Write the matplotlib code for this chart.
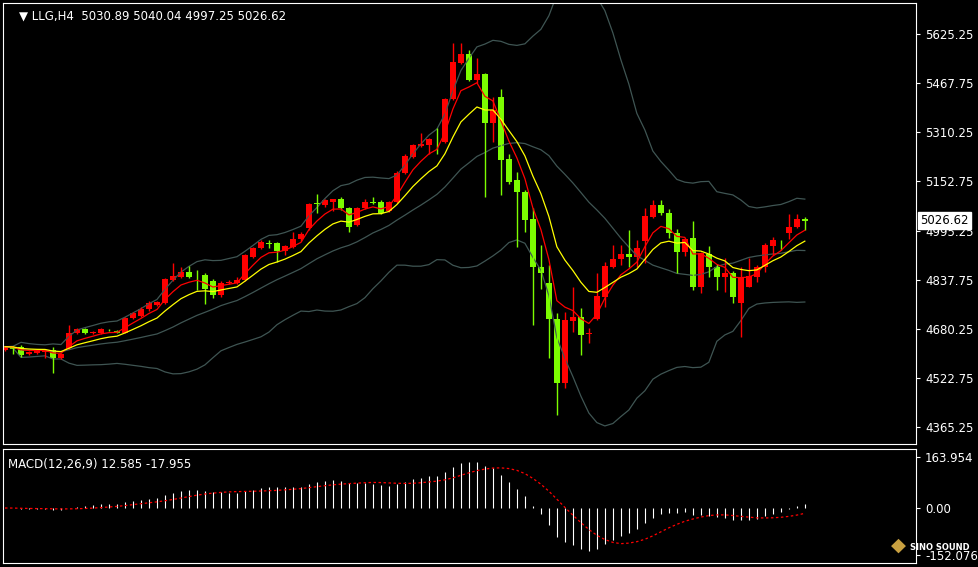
import numpy as np
import pandas as pd
import matplotlib
matplotlib.use("Agg")
import matplotlib.pyplot as plt

# OHLC, oldest first
opens = [4612, 4620, 4622, 4599, 4601, 4606, 4612, 4585, 4617, 4665,
         4678, 4665, 4665, 4677, 4671, 4667, 4713, 4721, 4742, 4756,
         4761, 4836, 4847, 4863, 4850, 4852, 4834, 4788, 4826, 4826,
         4836, 4911, 4938, 4955, 4954, 4930, 4943, 4967, 5002, 5083,
         5077, 5088, 5095, 5069, 5013, 5069, 5087, 5088, 5059, 5088,
         5181, 5232, 5266, 5270, 5287, 5280, 5419, 5534, 5562, 5480,
         5497, 5339, 5425, 5224, 5157, 5120, 5031, 4879, 4826, 4710,
         4505, 4706, 4716, 4663, 4710, 4783, 4879, 4903, 4920, 4911,
         4962, 5040, 5077, 5050, 4986, 4927, 4970, 4813, 4920, 4877,
         4847, 4858, 4763, 4815, 4847, 4879, 4945, 4966, 4986, 5007,
         5030.89]
highs = [4625, 4625, 4626, 4609, 4612, 4615, 4622, 4601, 4692, 4681,
         4681, 4673, 4681, 4678, 4676, 4718, 4735, 4750, 4770, 4770,
         4842, 4890, 4878, 4880, 4870, 4858, 4838, 4832, 4836, 4845,
         4920, 4942, 4965, 4965, 4958, 4950, 4990, 4990, 5085, 5112,
         5097, 5097, 5103, 5072, 5072, 5095, 5103, 5093, 5091, 5185,
         5240, 5274, 5309, 5291, 5326, 5420, 5596, 5596, 5575, 5548,
         5500, 5425, 5451, 5241, 5184, 5125, 5066, 4949, 4884, 4729,
         4735, 4815, 4745, 4681, 4858, 4895, 4949, 4949, 4997, 4965,
         5066, 5093, 5093, 5063, 4999, 4970, 5027, 4927, 4945, 4888,
         4906, 4866, 4879, 4906, 4884, 4954, 4973, 4966, 5048, 5048,
         5040.04]
lows = [4609, 4600, 4590, 4597, 4599, 4585, 4537, 4583, 4615, 4662,
        4662, 4662, 4663, 4674, 4665, 4665, 4711, 4718, 4738, 4754,
        4758, 4833, 4843, 4843, 4804, 4759, 4780, 4783, 4823, 4823,
        4833, 4906, 4935, 4940, 4895, 4915, 4940, 4963, 4998, 5050,
        5070, 5059, 5062, 4991, 5010, 5065, 5080, 5048, 5055, 5085,
        5176, 5228, 5262, 5241, 5241, 5275, 5415, 5530, 5476, 5470,
        5104, 5280, 5109, 5146, 4943, 4991, 4692, 4809, 4585, 4403,
        4488, 4670, 4595, 4633, 4708, 4751, 4874, 4884, 4879, 4879,
        4890, 5037, 5045, 4970, 4858, 4913, 4804, 4793, 4847, 4804,
        4799, 4763, 4654, 4813, 4831, 4863, 4916, 4932, 4967, 5002,
        4997.25]
closes = [4622, 4619, 4595, 4606, 4609, 4612, 4585, 4599, 4665, 4678,
          4665, 4670, 4678, 4675, 4670, 4713, 4729, 4742, 4761, 4767,
          4838, 4849, 4863, 4847, 4848, 4809, 4788, 4828, 4831, 4836,
          4916, 4938, 4959, 4953, 4930, 4945, 4967, 4984, 5080, 5081,
          5093, 5095, 5066, 5007, 5069, 5086, 5085, 5052, 5088, 5179,
          5234, 5270, 5273, 5288, 5285, 5417, 5537, 5562, 5480, 5497,
          5339, 5382, 5221, 5152, 5120, 5029, 4879, 4860, 4710, 4505,
          4708, 4716, 4660, 4666, 4785, 4881, 4903, 4920, 4909, 4938,
          5042, 5077, 5050, 4986, 4927, 4967, 4813, 4922, 4877, 4847,
          4858, 4781, 4842, 4849, 4879, 4949, 4965, 4964, 5007, 5031,
          5026.62]

price_ticks = [5625.25, 5467.75, 5310.25, 5152.75, 4995.25, 4837.75, 4680.25, 4522.75, 4365.25]
macd_ticks = [163.954, 0.00, -152.076]

df = pd.DataFrame({"o": opens, "h": highs, "l": lows, "c": closes})
n = len(df)
x = np.arange(n)

ma_fast = df.c.ewm(span=5, adjust=False).mean()
ma_slow = df.c.ewm(span=10, adjust=False).mean()
mid = df.c.rolling(20, min_periods=1).mean()
sd = df.c.rolling(20, min_periods=1).std(ddof=0)
upper = mid + 2 * sd
lower = mid - 2 * sd

ema12 = df.c.ewm(span=12, adjust=False).mean()
ema26 = df.c.ewm(span=26, adjust=False).mean()
macd = ema12 - ema26
signal = macd.rolling(9, min_periods=1).mean()

W, H = 979, 567
fig = plt.figure(figsize=(W / 100, H / 100), dpi=100, facecolor="black")
ax = fig.add_axes([3 / W, 1 - 444 / H, 913 / W, 441 / H])
ax2 = fig.add_axes([3 / W, 1 - 563 / H, 913 / W, 114 / H])

for a in (ax, ax2):
    a.set_facecolor("black")
    for s in a.spines.values():
        s.set_color("white")
    a.set_xlim(-0.25, 113.9)
    a.set_xticks([])
    a.yaxis.tick_right()
    a.tick_params(axis="y", colors="white", labelsize=8.5, length=3, direction="out")

ax.set_ylim(4309.7, 5725.8)
ax.set_yticks(price_ticks)
ax.set_yticklabels([f"{t:.2f}" for t in price_ticks])

band_col = "#3f5553"
ax.plot(x, upper, color=band_col, lw=0.9)
ax.plot(x, mid, color=band_col, lw=0.9)
ax.plot(x, lower, color=band_col, lw=0.9)

for i in range(n):
    o, h, l, c = opens[i], highs[i], lows[i], closes[i]
    col = "#ff0000" if c >= o else "#7cfc00"
    ax.vlines(i, l, h, color=col, lw=1)
    lo, hi = min(o, c), max(o, c)
    if hi - lo < 2:
        ax.hlines((o + c) / 2, i - 0.38, i + 0.38, color=col, lw=1.2)
    else:
        ax.bar(i, hi - lo, bottom=lo, width=0.75, color=col, linewidth=0)

ax.plot(x, ma_fast, color="#ff0000", lw=0.9)
ax.plot(x, ma_slow, color="#ffff00", lw=0.9)

ax.text(0.018, 0.985, "\u25bc LLG,H4  5030.89 5040.04 4997.25 5026.62", transform=ax.transAxes,
        color="white", fontsize=8.5, va="top", ha="left")
ax.text(1.005, closes[-1], f"{closes[-1]:.2f}", transform=ax.get_yaxis_transform(),
        color="black", fontsize=8.5, va="center", ha="left",
        bbox=dict(facecolor="white", edgecolor="white", pad=1.5))

ax2.set_ylim(-177, 190)
ax2.set_yticks(macd_ticks)
ax2.set_yticklabels(["163.954", "0.00", "-152.076"])
ax2.vlines(x, 0, macd, color="white", lw=0.8)
ax2.plot(x, signal, color="#ff0000", lw=0.9, ls=(0, (2, 2)))
ax2.text(0.006, 0.92, "MACD(12,26,9) 12.585 -17.955", transform=ax2.transAxes,
         color="white", fontsize=8.5, va="top", ha="left")

fig.text(910 / W, 1 - 547 / H, "SINO SOUND", color="white", fontsize=6, weight="bold", va="center")
fig.text(898 / W, 1 - 545 / H, "\u25c6", color="#c8a040", fontsize=14, va="center", ha="center")

fig.savefig("out.png", dpi=100, facecolor="black")
